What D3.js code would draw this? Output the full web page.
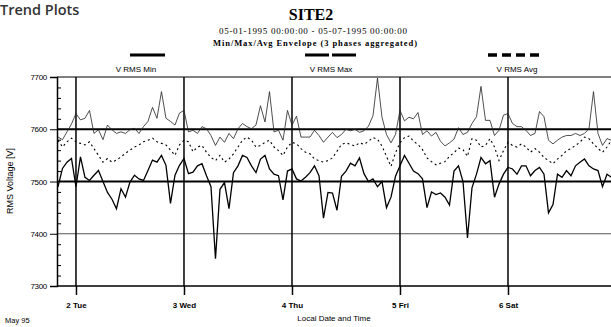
<!DOCTYPE html>
<html>
<head>
<meta charset="utf-8">
<script src="https://cdn.jsdelivr.net/npm/d3@7/dist/d3.min.js"></script>
<style>
  html, body { margin: 0; padding: 0; background: #fff; }
  svg { display: block; }
</style>
</head>
<body>
<svg id="chart" width="611" height="327"></svg>
<script>
// ---------------- data ----------------
const startTime = new Date(1995, 4, 1, 20, 0);   // first sample (hourly samples)
const stepHours = 1;
const seriesNames = ["V RMS Min", "V RMS Max", "V RMS Avg"];
const yTicks = [7300, 7400, 7500, 7600, 7700];
const dayTicks = ["2 Tue", "3 Wed", "4 Thu", "5 Fri", "6 Sat"];

const vMin = [7490,7525,7537,7544,7490,7547,7508,7502,7512,7521,7500,7479,7466,7448,7486,7470,7499,7512,7505,7502,
  7521,7541,7537,7550,7531,7458,7512,7531,7544,7515,7518,7530,7534,7511,7490,7352,7485,7498,7448,7517,
  7530,7550,7546,7530,7517,7543,7550,7524,7514,7511,7465,7520,7524,7505,7501,7508,7517,7530,7511,7430,
  7479,7478,7445,7510,7520,7535,7530,7545,7515,7500,7505,7490,7500,7450,7470,7510,7530,7550,7535,7520,
  7515,7505,7450,7480,7475,7478,7470,7455,7520,7530,7500,7392,7488,7514,7546,7534,7540,7470,7495,7514,
  7527,7524,7514,7530,7530,7511,7521,7527,7514,7440,7456,7514,7508,7521,7511,7530,7537,7543,7530,7524,
  7521,7490,7514,7508];
const vMax = [7585,7580,7595,7610,7630,7618,7621,7636,7592,7599,7580,7608,7599,7592,7595,7592,7599,7602,7592,7605,
  7615,7642,7621,7672,7621,7615,7608,7631,7636,7595,7598,7592,7605,7601,7588,7569,7585,7575,7592,7582,
  7601,7611,7605,7601,7608,7645,7614,7672,7595,7598,7579,7636,7608,7625,7585,7585,7585,7598,7588,7575,
  7585,7594,7584,7590,7600,7597,7600,7594,7597,7606,7626,7698,7623,7590,7574,7590,7636,7616,7623,7620,
  7632,7590,7597,7587,7594,7577,7568,7574,7581,7603,7590,7594,7611,7624,7682,7617,7617,7588,7598,7627,
  7630,7611,7605,7605,7598,7588,7592,7634,7624,7579,7572,7579,7585,7588,7588,7592,7588,7592,7601,7672,
  7592,7569,7582,7579];
const vAvg = [7579,7566,7576,7583,7576,7573,7570,7576,7563,7550,7537,7544,7537,7541,7547,7554,7560,7566,7570,7576,
  7579,7583,7576,7573,7570,7560,7550,7570,7579,7576,7557,7566,7569,7556,7546,7540,7550,7537,7543,7553,
  7566,7579,7585,7579,7566,7569,7575,7579,7566,7559,7550,7566,7575,7572,7563,7556,7553,7543,7540,7537,
  7540,7545,7558,7571,7574,7571,7568,7574,7571,7577,7584,7581,7568,7548,7529,7555,7574,7584,7587,7577,
  7571,7561,7545,7538,7532,7535,7538,7548,7555,7564,7561,7548,7582,7579,7566,7569,7582,7566,7540,7559,
  7575,7569,7566,7572,7566,7556,7563,7556,7546,7540,7534,7543,7550,7559,7563,7569,7575,7585,7582,7572,
  7563,7556,7566,7579];

// ---------------- layout ----------------
const svg = d3.select("#chart");
const pLeft = 57, pRight = 616, pTop = 77, pBottom = 286;

const x = d3.scaleTime()
  .domain([new Date(1995, 4, 1, 19, 47), new Date(1995, 4, 7, 0, 0)])
  .range([pLeft, pRight]);
const y = d3.scaleLinear().domain([7300, 7700]).range([pBottom, pTop]);

const timeOf = i => new Date(startTime.getTime() + i * stepHours * 3600 * 1000);
const dayDates = x.ticks(d3.timeDay.every(1)).filter(d => d.getDate() >= 2 && d.getDate() <= 6);

const sans = "'Liberation Sans', Arial, sans-serif";
const serif = "'Liberation Serif', 'Times New Roman', serif";

// titles
svg.append("text").attr("x", 0).attr("y", 15)
  .style("font-family", "'Open Sans', sans-serif").style("font-size", "14.5px")
  .style("font-weight", 600).attr("fill", "#333").text("Trend Plots");
svg.append("text").attr("x", 311).attr("y", 20).attr("text-anchor", "middle")
  .style("font-family", serif).style("font-size", "16px").style("font-weight", "bold")
  .text("SITE2");
svg.append("text").attr("x", 313).attr("y", 34).attr("text-anchor", "middle")
  .style("font-family", serif).style("font-size", "9px").attr("textLength", 188)
  .text("05-01-1995 00:00:00 - 05-07-1995 00:00:00");
svg.append("text").attr("x", 315).attr("y", 46).attr("text-anchor", "middle")
  .style("font-family", serif).style("font-size", "8.5px").style("font-weight", "bold")
  .attr("textLength", 204)
  .text("Min/Max/Avg Envelope (3 phases aggregated)");

// legend
const legend = [
  { name: seriesNames[0], x1: 130, x2: 165, tx: 136, dash: null, w: 3 },
  { name: seriesNames[1], x1: 305, x2: 359, tx: 331, dash: "24,3", w: 3 },
  { name: seriesNames[2], x1: 488, x2: 542, tx: 517, dash: "9,5", w: 3.5 }
];
legend.forEach(l => {
  svg.append("line").attr("x1", l.x1).attr("x2", l.x2).attr("y1", 55).attr("y2", 55)
    .attr("stroke", "#000").attr("stroke-width", l.w)
    .attr("stroke-dasharray", l.dash);
  svg.append("text").attr("x", l.tx).attr("y", 72).attr("text-anchor", "middle")
    .style("font-family", sans).style("font-size", "8px").text(l.name);
});

// gridlines
const grid = svg.append("g");
grid.selectAll("line.h").data(yTicks).join("line")
  .attr("x1", pLeft).attr("x2", 611)
  .attr("y1", d => y(d)).attr("y2", d => y(d))
  .attr("stroke", d => d === 7400 ? "#555" : "#000")
  .attr("stroke-width", d => (d === 7500 || d === 7600) ? 2 : (d === 7300 ? 1.5 : 1));
grid.selectAll("line.v").data(dayDates).join("line")
  .attr("x1", d => x(d)).attr("x2", d => x(d))
  .attr("y1", pTop).attr("y2", pBottom)
  .attr("stroke", "#000").attr("stroke-width", 1.5);

// series
const line = d3.line().x((d, i) => x(timeOf(i))).y(d => y(d));
const plot = svg.append("g");
plot.append("path").datum(vAvg).attr("d", line).attr("fill", "none")
  .attr("stroke", "#000").attr("stroke-width", 1.1).attr("stroke-dasharray", "2,3");
plot.append("path").datum(vMax).attr("d", line).attr("fill", "none")
  .attr("stroke", "#222").attr("stroke-width", 0.8);
plot.append("path").datum(vMin).attr("d", line).attr("fill", "none")
  .attr("stroke", "#000").attr("stroke-width", 1.3);

// y axis
const yAxis = svg.append("g").attr("transform", `translate(${pLeft},0)`)
  .call(d3.axisLeft(y).tickValues(yTicks).tickSize(7).tickPadding(3).tickFormat(d3.format("d")));
yAxis.select(".domain").attr("stroke-width", 1.5);
yAxis.selectAll("text").style("font-family", sans).style("font-size", "8px")
  .attr("letter-spacing", "-0.3");
const minor = d3.range(7300, 7701, 20).filter(v => v % 100 !== 0);
svg.append("g").attr("transform", `translate(${pLeft},0)`)
  .call(d3.axisRight(y).tickValues(minor).tickSize(4).tickFormat(""))
  .call(g => g.select(".domain").remove());

// x axis
const xAxis = svg.append("g").attr("transform", `translate(0,${pBottom})`)
  .call(d3.axisBottom(x).tickValues(dayDates).tickSize(9).tickPadding(7)
    .tickFormat((d, i) => dayTicks[i]));
xAxis.select(".domain").remove();
xAxis.selectAll(".tick line").attr("stroke-width", 1.5);
xAxis.selectAll("text").style("font-family", sans).style("font-size", "8px")
  .style("font-weight", "bold");

// axis titles
svg.append("text").attr("transform", "translate(13,181) rotate(-90)")
  .attr("text-anchor", "middle").style("font-family", sans).style("font-size", "9px")
  .text("RMS Voltage [V]");
svg.append("text").attr("x", 5).attr("y", 323)
  .style("font-family", sans).style("font-size", "7.5px").text("May 95");
svg.append("text").attr("x", 334).attr("y", 321).attr("text-anchor", "middle")
  .style("font-family", sans).style("font-size", "8px").text("Local Date and Time");
</script>
</body>
</html>
